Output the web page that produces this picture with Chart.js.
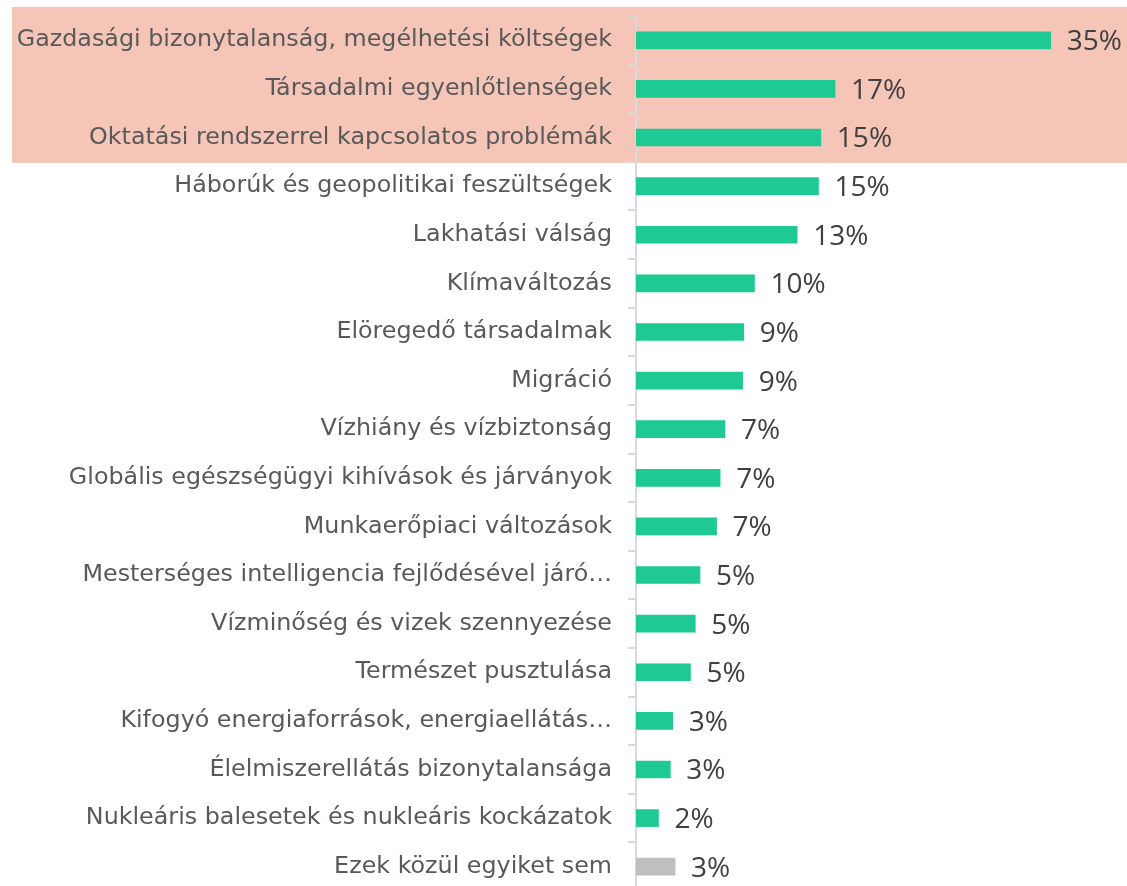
<!DOCTYPE html>
<html>
<head>
<meta charset="utf-8">
<script src="https://cdn.jsdelivr.net/npm/chart.js@4/dist/chart.umd.min.js"></script>
<style>
  html, body { margin: 0; padding: 0; width: 1127px; height: 886px; overflow: hidden; background: #fff; }
  #wrap { position: relative; width: 1127px; height: 892px; }
</style>
</head>
<body>
<div id="wrap"><canvas id="grafico"></canvas></div>
<script>
const categorias = [
  "Gazdasági bizonytalanság, megélhetési költségek",
  "Társadalmi egyenlőtlenségek",
  "Oktatási rendszerrel kapcsolatos problémák",
  "Háborúk és geopolitikai feszültségek",
  "Lakhatási válság",
  "Klímaváltozás",
  "Elöregedő társadalmak",
  "Migráció",
  "Vízhiány és vízbiztonság",
  "Globális egészségügyi kihívások és járványok",
  "Munkaerőpiaci változások",
  "Mesterséges intelligencia fejlődésével járó…",
  "Vízminőség és vizek szennyezése",
  "Természet pusztulása",
  "Kifogyó energiaforrások, energiaellátás…",
  "Élelmiszerellátás bizonytalansága",
  "Nukleáris balesetek és nukleáris kockázatok",
  "Ezek közül egyiket sem"
];
const valores = [35.0, 16.8, 15.6, 15.4, 13.6, 10.0, 9.1, 9.0, 7.5, 7.1, 6.8, 5.4, 5.0, 4.6, 3.1, 2.9, 1.9, 3.3];
const rotulos = ["35%", "17%", "15%", "15%", "13%", "10%", "9%", "9%", "7%", "7%", "7%", "5%", "5%", "5%", "3%", "3%", "2%", "3%"];
const destaque = 3; // primeiras linhas com fundo

const verde = "#1EC994";
const cinza = "#BFBFBF";
const cores = valores.map((v, i) => (i === valores.length - 1 ? cinza : verde));

// faixa salmão atrás das 3 primeiras categorias
const fundoDestaque = {
  id: "fundoDestaque",
  beforeDraw(chart) {
    const ctx = chart.ctx;
    const y = chart.scales.y;
    const passo = y.getPixelForValue(1) - y.getPixelForValue(0);
    const topo = y.getPixelForValue(0) - passo / 2 - 9;
    const base = y.getPixelForValue(destaque - 1) + passo / 2 + 1;
    ctx.save();
    ctx.fillStyle = "#F5C6B7";
    ctx.fillRect(12, topo, chart.width - 12, base - topo);
    ctx.restore();
  }
};

// rótulos de valor à direita das barras
const valoresBarras = {
  id: "valoresBarras",
  afterDatasetsDraw(chart) {
    const ctx = chart.ctx;
    const meta = chart.getDatasetMeta(0);
    ctx.save();
    ctx.font = "28px 'Open Sans'";
    ctx.fillStyle = "#404040";
    ctx.textAlign = "left";
    ctx.textBaseline = "middle";
    meta.data.forEach((bar, i) => {
      ctx.fillText(rotulos[i], bar.x + 16, bar.y + 2);
    });
    ctx.restore();
  }
};

function grafico() {
  const ctx = document.getElementById("grafico").getContext("2d");

  new Chart(ctx, {
    type: "bar",
    data: {
      labels: categorias,
      datasets: [
        {
          data: valores,
          backgroundColor: cores,
          borderWidth: 0,
          barThickness: 17
        }
      ]
    },
    options: {
      indexAxis: "y",
      responsive: true,
      maintainAspectRatio: false,
      animation: false,
      layout: { padding: { top: 16, right: 17, bottom: 1, left: 0 } },
      scales: {
        x: {
          display: false,
          min: 0,
          max: 40
        },
        y: {
          afterFit(scale) {
            scale.width = 636;
            scale.paddingTop = 0; // sem folga extra para os rótulos
            scale.paddingBottom = 0;
          },
          border: { display: true, color: "#D9D9D9", width: 2 },
          grid: {
            drawOnChartArea: false,
            drawTicks: true,
            tickLength: 8,
            color: "#D9D9D9",
            lineWidth: 2
          },
          ticks: {
            color: "#595959",
            padding: 16,
            autoSkip: false,
            font: { size: 23.8, family: "'DejaVu Sans'" }
          }
        }
      },
      plugins: {
        legend: { display: false },
        tooltip: { enabled: false }
      }
    },
    plugins: [fundoDestaque, valoresBarras]
  });
}

grafico();
</script>
</body>
</html>
